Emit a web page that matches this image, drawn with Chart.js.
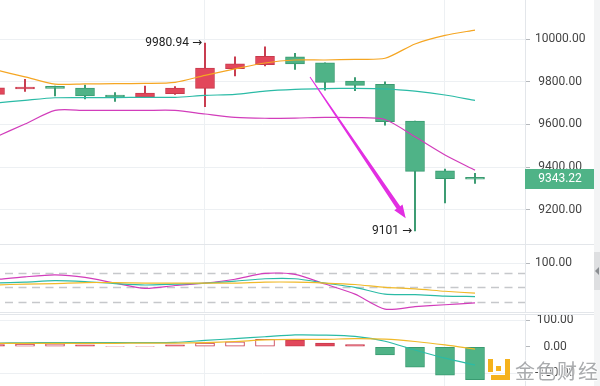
<!DOCTYPE html>
<html>
<head>
<meta charset="utf-8">
<script src="https://cdn.jsdelivr.net/npm/chart.js@4.4.1/dist/chart.umd.min.js"></script>
<style>
  html, body { margin: 0; padding: 0; background: #fff; }
  #wrap { position: relative; width: 600px; height: 386px; overflow: hidden; background: #fff; }
  .panel { position: absolute; left: 0; width: 600px; }
  #p-main { top: 0; height: 244px; border-bottom: 1px solid #e3e6ea; }
  #p-rsi { top: 245px; height: 67px; border-bottom: 1px solid #e3e6ea; }
  #p-macd { top: 314px; height: 72px; border-top: 1px solid #e3e6ea; }
  canvas { display: block; }
  #strip { position: absolute; left: 594px; top: 0; width: 6px; height: 386px; background: #f3f4f5; }
  #tab { position: absolute; left: 0; top: 252px; width: 6px; height: 38px; background: #dedfe1; }
  #tab:after { content: ""; position: absolute; left: 1px; top: 15px; border: 4px solid transparent; border-right-color: #8a8d91; border-left-width: 0; }
  #mark { position: absolute; left: 487px; top: 356px; width: 113px; height: 28px; }
  .logo-r { position: absolute; left: 18px; top: 3px; width: 5px; height: 21px; background: #f5b21c; }
  .logo-b { position: absolute; left: 4px; top: 19px; width: 19px; height: 5px; background: #f5b21c; }
  .logo-l { position: absolute; left: 1px; top: 3px; width: 5px; height: 13px; background: #f5b21c; }
  .logo-d { position: absolute; left: 9px; top: 10px; width: 5px; height: 5px; background: #f5b21c; }
  .mark-text { position: absolute; left: 28px; top: 0; font: 20px "Noto Sans CJK SC", sans-serif; color: #a3a5a8;
    letter-spacing: 1px; text-shadow: 1px 0 #fff, -1px 0 #fff, 0 1px #fff, 0 -1px #fff; white-space: nowrap; opacity: 0.92; }
</style>
</head>
<body>
<div id="wrap">
  <div class="panel" id="p-main"><canvas id="main" width="600" height="244"></canvas></div>
  <div class="panel" id="p-rsi"><canvas id="rsi" width="600" height="67"></canvas></div>
  <div class="panel" id="p-macd"><canvas id="macd" width="600" height="71"></canvas></div>
  <div id="strip"><div id="tab"></div></div>
  <div id="mark">
    <div class="logo-l"></div><div class="logo-b"></div><div class="logo-r"></div><div class="logo-d"></div>
    <div class="mark-text">金色财经</div>
  </div>
</div>
<script>
// candle slots (first one is only partly visible on the left edge)
const candleIndex = [-1, 0, 1, 2, 3, 4, 5, 6, 7, 8, 9, 10, 11, 12, 13, 14, 15];

const open  = [9741, 9766, 9777, 9770, 9738, 9728, 9744, 9769, 9861, 9880, 9917, 9889, 9803, 9788, 9616, 9383, 9349];
const close = [9772, 9774, 9769, 9734, 9728, 9747, 9770, 9864, 9884, 9919, 9884, 9797, 9783, 9613, 9380, 9346, 9343.22];
const high  = [9780, 9811, 9780, 9785, 9749, 9780, 9777, 9980.94, 9917, 9964, 9933, 9889, 9819, 9800, 9616, 9391, 9371];
const low   = [9735, 9755, 9734, 9720, 9708, 9725, 9741, 9683, 9827, 9874, 9858, 9761, 9758, 9597, 9101, 9233, 9324];

// bollinger bands
const bollUpper = [9856, 9823, 9789, 9790, 9791, 9792, 9797, 9830, 9860, 9888, 9902, 9902, 9905, 9910, 9977, 10017, 10042];
const bollMid   = [9700, 9713, 9725, 9726, 9726, 9727, 9727, 9736, 9741, 9756, 9764, 9768, 9769, 9767, 9756, 9738, 9713];
const bollLower = [9540, 9602, 9666, 9666, 9666, 9666, 9666, 9649, 9633, 9629, 9630, 9633, 9632, 9623, 9542, 9457, 9386];

// second panel (three oscillator lines)
const rsi1 = [66, 72, 76, 71, 59, 48, 54, 59, 67, 79, 77, 57, 36, 5, 10, 14, 18];
const rsi2 = [59, 61, 64, 62, 58, 55, 57, 59, 63, 68, 68, 59, 50, 36, 35, 32, 31];
const rsi3 = [55, 57, 58, 60, 60, 59, 59, 59, 59, 61, 61, 59, 56, 50, 47, 42, 38];
const rsiLevels = [80, 50, 20];

// macd panel
const macdHist = [8, 10, 11, 7, 2, 2, 7, 14, 19, 28, 25, 14, 8, -31, -77, -107, -124];
const histHollow = [false, true, true, false, false, false, false, true, true, true, false, false, false, false, false, false, false];
const macdDif = [14, 15, 16, 16, 16, 16, 17, 24, 31, 38, 45, 44, 39, 21, -12, -43, -69];
const macdDea = [13, 13, 13, 13, 13, 14, 14, 16, 20, 26, 28, 28, 31, 29, 20, 7, -9];

// axis ticks
const priceTicks = [9200, 9400, 9600, 9800, 10000];
const rsiTicks = [100];
const macdTicks = [100, 0, -100];
const vGridAt = [6, 14];

// drawn trend arrow, in (slot, price)
const arrowFrom = [9.5, 9822];
const arrowTo = [12.69, 9161];

const upFill = '#e2475b', upLine = '#c83a4d';
const downFill = '#4fb387', downLine = '#3a9b71';
const cOrange = '#f5a623', cTeal = '#2bbba6', cMagenta = '#d23dbb', cYellow = '#f0b92a';
const gridCol = '#edf0f3';
const labelFont = { family: 'Roboto', size: 12 };

const pts = arr => candleIndex.map((k, i) => ({ x: k, y: arr[i] }));

function xAxis() {
	return {
		type: 'linear', min: -0.8333, max: 16.6667, offset: false,
		afterBuildTicks: s => { s.ticks = vGridAt.map(v => ({ value: v })); },
		afterFit: s => { s.height = 0; },
		ticks: { display: false },
		grid: { color: gridCol, drawTicks: false, offset: false },
		border: { display: false }
	};
}

function yAxis(min, max, ticks, gridColor) {
	return {
		position: 'right', min: min, max: max,
		afterBuildTicks: s => { s.ticks = ticks.map(v => ({ value: v })); },
		afterFit: s => { s.width = 75; s.paddingTop = 0; s.paddingBottom = 0; },
		grid: { color: gridColor || gridCol, tickColor: '#b5b8bc', tickLength: 5 },
		border: { color: '#e3e6ea' },
		ticks: {
			crossAlign: 'center', padding: 5, color: '#444', font: labelFont,
			callback: v => Number(v).toFixed(2)
		}
	};
}

function lineSet(arr, color) {
	return {
		type: 'line', data: pts(arr), borderColor: color, borderWidth: 1.2,
		pointRadius: 0, tension: 0.25, fill: false, order: 0
	};
}

const baseOptions = {
	responsive: false, animation: false, devicePixelRatio: 1,
	layout: { padding: 0 },
	plugins: { legend: { display: false }, tooltip: { enabled: false } }
};

// dashed level lines for the oscillator panel
const levelLines = {
	id: 'levelLines',
	beforeDatasetsDraw(chart) {
		const { ctx, chartArea: a, scales: { y } } = chart;
		ctx.save();
		ctx.setLineDash([8, 5.5]);
		ctx.lineDashOffset = -5;
		ctx.strokeStyle = '#c6c8cb';
		ctx.lineWidth = 1.5;
		rsiLevels.forEach(v => {
			const py = Math.round(y.getPixelForValue(v)) + 0.5;
			ctx.beginPath();
			ctx.moveTo(a.left, py);
			ctx.lineTo(a.right, py);
			ctx.stroke();
		});
		ctx.restore();
	}
};

// max / min labels, trend arrow and last price tag
const priceExtras = {
	id: 'priceExtras',
	afterDraw(chart) {
		const { ctx, chartArea: a, scales: { x, y } } = chart;
		ctx.save();

		// extremes
		const hi = Math.max(...high), lo = Math.min(...low);
		const hk = candleIndex[high.indexOf(hi)], lk = candleIndex[low.indexOf(lo)];
		ctx.font = '12px Roboto, "DejaVu Sans", sans-serif';
		ctx.fillStyle = '#222';
		ctx.textAlign = 'right';
		ctx.textBaseline = 'middle';
		ctx.fillText(hi + ' \u2192', x.getPixelForValue(hk) - 3, y.getPixelForValue(hi));
		ctx.fillText(lo + ' \u2192', x.getPixelForValue(lk) - 3, y.getPixelForValue(lo));

		// tapered arrow
		const sx = x.getPixelForValue(arrowFrom[0]), sy = y.getPixelForValue(arrowFrom[1]);
		const tx = x.getPixelForValue(arrowTo[0]), ty = y.getPixelForValue(arrowTo[1]);
		const len = Math.hypot(tx - sx, ty - sy);
		const dx = (tx - sx) / len, dy = (ty - sy) / len;
		const nx = -dy, ny = dx;
		const headLen = 13, headW = 5, w0 = 0.5, w1 = 2.2;
		const bx = tx - dx * headLen, by = ty - dy * headLen;
		ctx.fillStyle = '#e22fe2';
		ctx.beginPath();
		ctx.moveTo(sx + nx * w0, sy + ny * w0);
		ctx.lineTo(bx + nx * w1, by + ny * w1);
		ctx.lineTo(bx + nx * headW, by + ny * headW);
		ctx.lineTo(tx, ty);
		ctx.lineTo(bx - nx * headW, by - ny * headW);
		ctx.lineTo(bx - nx * w1, by - ny * w1);
		ctx.lineTo(sx - nx * w0, sy - ny * w0);
		ctx.closePath();
		ctx.fill();

		// last price tag on the axis
		const last = close[close.length - 1];
		const py = Math.round(y.getPixelForValue(last));
		ctx.fillStyle = downFill;
		ctx.fillRect(a.right, py - 10, 69, 20);
		ctx.fillStyle = '#fff';
		ctx.textAlign = 'center';
		ctx.fillText(last.toFixed(2), a.right + 35, py);
		ctx.restore();
	}
};

const isUp = candleIndex.map((k, i) => close[i] >= open[i]);

new Chart(document.getElementById('main'), {
	type: 'bar',
	data: {
		datasets: [
			{
				data: candleIndex.map((k, i) => ({ x: k, y: [open[i], close[i]] })),
				backgroundColor: isUp.map(u => u ? upFill : downFill),
				borderColor: isUp.map(u => u ? upLine : downLine),
				borderWidth: 1, borderSkipped: false, barThickness: 19,
				minBarLength: 2, grouped: false, order: 1
			},
			{
				data: candleIndex.map((k, i) => ({ x: k, y: [low[i], high[i]] })),
				backgroundColor: isUp.map(u => u ? upLine : downLine),
				barThickness: 1.3, grouped: false, order: 2
			},
			lineSet(bollUpper, cOrange),
			lineSet(bollMid, cTeal),
			lineSet(bollLower, cMagenta)
		]
	},
	options: Object.assign({}, baseOptions, {
		scales: { x: xAxis(), y: yAxis(9040, 10183, priceTicks) }
	}),
	plugins: [priceExtras]
});

new Chart(document.getElementById('rsi'), {
	type: 'line',
	data: {
		datasets: [lineSet(rsi3, cYellow), lineSet(rsi2, cTeal), lineSet(rsi1, cMagenta)]
	},
	options: Object.assign({}, baseOptions, {
		scales: { x: xAxis(), y: yAxis(-1, 138, rsiTicks) }
	}),
	plugins: [levelLines]
});

new Chart(document.getElementById('macd'), {
	type: 'bar',
	data: {
		datasets: [
			{
				data: pts(macdHist),
				backgroundColor: macdHist.map((v, i) => histHollow[i] ? '#ffffff' : (v >= 0 ? upFill : downFill)),
				borderColor: macdHist.map(v => v >= 0 ? upLine : downLine),
				borderWidth: 1, borderSkipped: false, barThickness: 19, grouped: false, order: 1
			},
			lineSet(macdDea, cYellow),
			lineSet(macdDif, cTeal)
		]
	},
	options: Object.assign({}, baseOptions, {
		scales: {
			x: xAxis(),
			y: yAxis(-148, 120, macdTicks, c => (c.tick && c.tick.value === 0) ? 'rgba(0,0,0,0)' : gridCol)
		}
	})
});
</script>
</body>
</html>
